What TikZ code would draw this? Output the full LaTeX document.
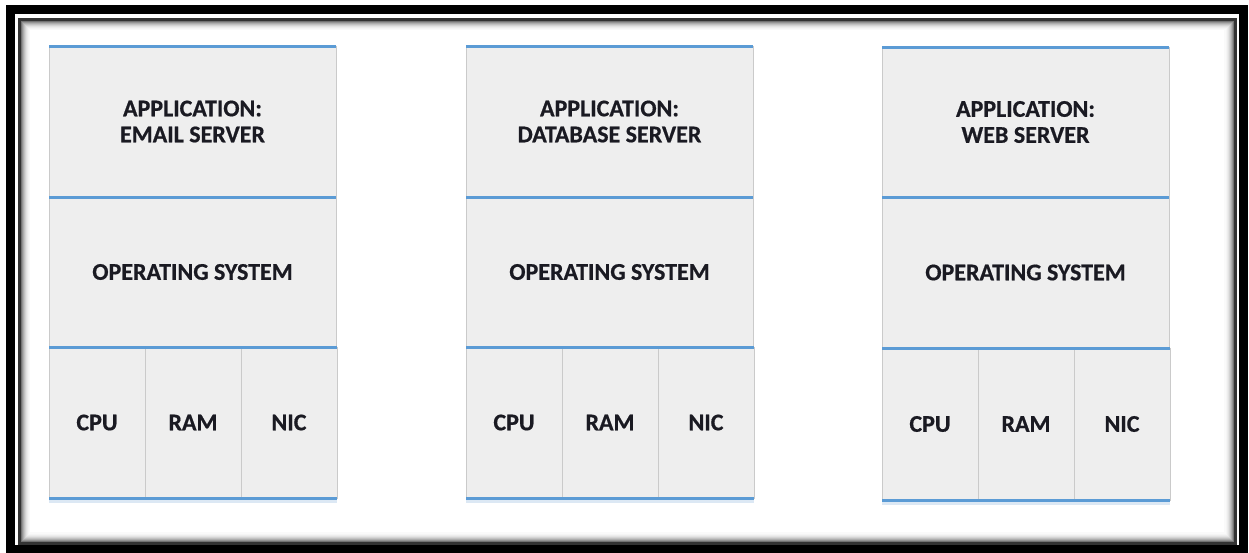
\documentclass[tikz,border=0pt]{standalone}
\usepackage{fontspec}
\setmainfont{Carlito}[BoldFeatures={FakeBold=0.6}]
\definecolor{layerfill}{HTML}{EEEEEE}
\definecolor{layerborder}{HTML}{CACACA}
\definecolor{bluebar}{HTML}{5B9BD5}
\definecolor{shadowblue}{HTML}{DCE8F4}
\definecolor{txt}{HTML}{1A1A22}
\begin{document}
\begin{tikzpicture}[x=1pt,y=-1pt,
  layer/.style={rectangle, fill=layerfill, draw=layerborder, line width=0.9pt,
    inner sep=0pt, outer sep=0pt, anchor=north west, align=center,
    text=txt, font=\fontsize{24}{26}\selectfont\bfseries},
  bluebar/.style={draw=bluebar, line width=3pt},
  shadowbar/.style={draw=shadowblue, line width=4pt}]
\useasboundingbox (0,0) rectangle (1249,552);
\fill[white] (0,0) rectangle (1249,552);
% outer frame
\draw[black, line width=9pt] (10.5,9.5) rectangle (1243.5,549);
\draw[black!80, line width=3pt] (19.5,19.5) rectangle (1235,543);
\foreach \i/\c in {1/55,2/42,3/32,4/24,5/17,6/11,7/7,8/4,9/2}
  \draw[black!\c, line width=1.05pt] (20.5+\i,20.5+\i) rectangle (1234-\i,542-\i);
% stacks
\foreach \n/\xa/\ya/\yb/\yc/\yd/\txt in {1/49/46/197/347/498/EMAIL SERVER,
    2/466/46/197/347/498/DATABASE SERVER, 3/882/47/197/348/500/WEB SERVER}{
  \node[layer, minimum width=287pt, minimum height={(\yb-\ya)*1pt}] (app\n) at (\xa,\ya) {\raisebox{-1pt}{APPLICATION:}\\[0pt]\raisebox{-1pt}{\txt}};
  \node[layer, minimum width=287pt, minimum height={(\yc-\yb)*1pt}] (os\n) at (\xa,\yb) {OPERATING SYSTEM};
  \node[layer, minimum width=96pt, minimum height={(\yd-\yc)*1pt}] (cpu\n) at (\xa,\yc) {\raisebox{-2pt}{CPU}};
  \node[layer, minimum width=96pt, minimum height={(\yd-\yc)*1pt}] (ram\n) at (cpu\n.north east) {\raisebox{-2pt}{RAM}};
  \node[layer, minimum width=96pt, minimum height={(\yd-\yc)*1pt}] (nic\n) at (ram\n.north east) {\raisebox{-2pt}{NIC}};
  \draw[shadowbar] ([yshift=-3pt]cpu\n.south west) -- ([yshift=-3pt]nic\n.south east);
  \draw[bluebar] (app\n.north west) -- (app\n.north east);
  \draw[bluebar] (os\n.north west) -- (os\n.north east);
  \draw[bluebar] (cpu\n.north west) -- (nic\n.north east);
  \draw[bluebar] (cpu\n.south west) -- (nic\n.south east);
}
\end{tikzpicture}
\end{document}
